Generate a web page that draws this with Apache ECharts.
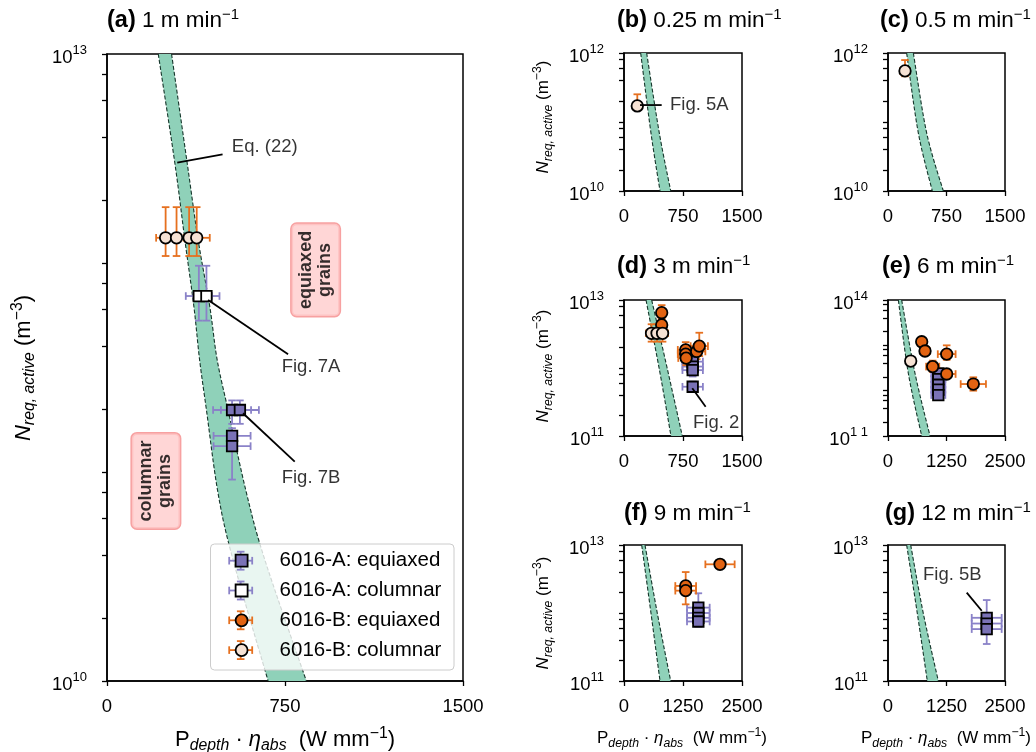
<!DOCTYPE html>
<html>
<head>
<meta charset="utf-8">
<script src="https://cdn.jsdelivr.net/npm/echarts@6/dist/echarts.min.js"></script>
<style>html,body{margin:0;padding:0;background:#fff}#chart{width:1036px;height:752px}</style>
</head>
<body>
<div id="chart"></div>
<script>
// Eq. (22) band: [N, x of left edge, x of right edge]
const bandA = [[1e13, 216, 272], [3.0e12, 286, 338], [1.29e12, 328, 384], [6.2e11, 366, 433], [3.45e11, 390, 464],
  [1.98e11, 419, 510], [7.9e10, 468, 588], [3.8e10, 531, 665], [1e10, 679, 840]];
const bandB = [[1e12, 212, 288], [6.9e10, 343, 449], [1e10, 458, 594]];
const bandC = [[1e12, 239, 325], [6.9e10, 389, 496], [1e10, 568, 709]];
const bandD = [[1e13, 280, 352], [8.4e11, 458, 563], [1e11, 597, 741]];
const bandE = [[1e14, 221, 292], [2.42e12, 434, 577], [1e11, 720, 898]];
const bandF = [[1e13, 375, 445], [9.9e11, 572, 706], [1e11, 763, 989]];
const bandG = [[1e13, 399, 485], [9.9e11, 626, 754], [1e11, 840, 1075]];

// measured points: [P*eta, N, x error, N low, N high]
const aEqA = [[527, 1.98e11, 80, 1.7e11, 2.2e11], [560, 1.98e11, 80, 1.7e11, 2.2e11],
  [527, 1.49e11, 78, 1.3e11, 1.62e11], [527, 1.33e11, 78, 9.2e10, 1.5e11]];
const aColA = [[387, 6.95e11, 55, 5.3e11, 9.7e11], [419, 6.95e11, 55, 5.3e11, 9.7e11]];
const aColB = [[247, 1.32e12, 40, 1.08e12, 1.85e12], [293, 1.32e12, 40, 1.08e12, 1.85e12],
  [346, 1.32e12, 45, 1.08e12, 1.85e12], [378, 1.32e12, 55, 1.08e12, 1.85e12]];
const bColB = [[169, 1.71e11, 15, 1.6e11, 2.52e11]];
const cColB = [[218, 5.5e11, 60, 4.6e11, 7.9e11]];
const dColB = [[350, 3.24e12, 70, 2.44e12, 4.4e12], [420, 3.24e12, 70, 2.44e12, 4.4e12], [490, 3.24e12, 70, 2.44e12, 4.4e12]];
const dEqB = [[479, 6.5e12, 50, 5.2e12, 8.4e12], [479, 4.3e12, 50, 3.5e12, 5.3e12], [784, 1.85e12, 100, 1.4e12, 2.4e12],
  [784, 1.6e12, 100, 1.25e12, 2.0e12], [790, 1.4e12, 100, 1.1e12, 1.8e12], [924, 1.75e12, 110, 1.35e12, 2.2e12],
  [957, 2.1e12, 110, 1.5e12, 3.3e12]];
const dEqA = [[873, 1.24e12, 130, 9.5e11, 1.6e12], [873, 1.05e12, 130, 8.5e11, 1.3e12],
  [873, 9.3e11, 130, 7.5e11, 1.15e12], [873, 5.3e11, 130, 4.5e11, 6.3e11]];
const eColB = [[485, 4.5e12, 60, 4.0e12, 5.1e12]];
const eEqB = [[720, 1.2e13, 90, 9.5e12, 1.45e13], [791, 7.5e12, 100, 6.0e12, 9.5e12], [1254, 6.4e12, 190, 4.8e12, 1.0e13],
  [955, 3.4e12, 140, 2.6e12, 4.6e12], [1254, 2.33e12, 190, 1.9e12, 2.9e12], [1823, 1.4e12, 270, 1.0e12, 1.97e12]];
const eEqA = [[1075, 2.4e12, 150, 2.0e12, 2.8e12], [1075, 1.8e12, 150, 1.5e12, 2.1e12], [1075, 1.35e12, 150, 1.1e12, 1.6e12],
  [1075, 1.05e12, 150, 8.8e11, 1.25e12], [1075, 8.0e11, 150, 6.8e11, 9.2e11]];
const fEqB = [[2034, 5.2e12, 310, 4.8e12, 5.6e12], [1307, 2.5e12, 220, 1.9e12, 4.0e12], [1307, 2.13e12, 220, 1.34e12, 2.6e12]];
const fEqA = [[1575, 1.2e12, 240, 1.0e12, 1.95e12], [1575, 1.0e12, 240, 8.5e11, 1.2e12],
  [1575, 8.5e11, 240, 7.2e11, 1.0e12], [1575, 7.5e11, 240, 6.3e11, 9.0e11]];
const gEqA = [[2109, 8.5e11, 320, 6.5e11, 1.55e12], [2109, 7.0e11, 320, 5.0e11, 1.0e12], [2109, 5.8e11, 320, 3.5e11, 7.5e11]];

// axes
const titles = ['(a)|1 m min', '(b)|0.25 m min', '(c)|0.5 m min', '(d)|3 m min', '(e)|6 m min', '(f)|9 m min', '(g)|12 m min'];
const xMax = [1500, 1500, 1500, 1500, 2500, 2500, 2500];
const yMinExp = [10, 10, 10, 11, 11, 11, 11];
const yMaxExp = [13, 12, 12, 13, 14, 13, 13];
const yLabelText = [['10', '13'], ['10', '12'], ['10', '12'], ['11', '13'], ['1 1', '14'], ['11', '13'], ['11', '13']];

// annotations: [panel, text, text x, text N, line x0, line N0, line x1, line N1]
const notes = [
  [0, 'Eq. (22)', 526, 3.59e12, 487, 3.31e12, 296, 3.02e12],
  [0, 'Fig. 7A', 736, 3.18e11, 426, 6.65e11, 763, 3.66e11],
  [0, 'Fig. 7B', 736, 9.35e10, 573, 1.91e11, 791, 1.12e11],
  [1, 'Fig. 5A', 585, 1.76e11, 203, 1.76e11, 479, 1.76e11],
  [3, 'Fig. 2', 877, 1.57e11, 868, 5.03e11, 1038, 2.69e11],
  [6, 'Fig. 5B', 748, 3.62e12, 1682, 1.99e12, 2003, 1.08e12]
];
const grainBoxes = [[0, 'equiaxed\ngrains', 879, 9.27e11], [0, 'columnar\ngrains', 206, 9.06e10]];

const NAMES = ['6016-A: equiaxed', '6016-A: columnar', '6016-B: equiaxed', '6016-B: columnar'];
const panels = [
  { band: bandA, sets: [aEqA, aColA, [], aColB] },
  { band: bandB, sets: [[], [], [], bColB] },
  { band: bandC, sets: [[], [], [], cColB] },
  { band: bandD, sets: [dEqA, [], dEqB, dColB] },
  { band: bandE, sets: [eEqA, [], eEqB, eColB] },
  { band: bandF, sets: [fEqA, [], fEqB, []] },
  { band: bandG, sets: [gEqA, [], [], []] }
];

const FONT = '"Liberation Sans", Arial, sans-serif';
const PURPLE = '#7a72b6', PURPLE_ERR = '#8a82c8', ORANGE = '#e26312', ORANGE_ERR = '#e6701f';
const STY = [
  { symbol: 'rect', size: 10.5, fill: PURPLE, err: PURPLE_ERR },
  { symbol: 'rect', size: 10.5, fill: '#ffffff', err: PURPLE_ERR },
  { symbol: 'circle', size: 11.5, fill: ORANGE, err: ORANGE_ERR },
  { symbol: 'circle', size: 11.5, fill: '#f6e2d4', err: ORANGE_ERR }
];

const gridPos = [
  { left: 107, top: 54, width: 356, height: 627 },
  { left: 624, top: 53, width: 118, height: 138 },
  { left: 888, top: 53, width: 117, height: 138 },
  { left: 624, top: 300, width: 118, height: 136 },
  { left: 888, top: 300, width: 117, height: 136 },
  { left: 624, top: 545, width: 118, height: 136 },
  { left: 888, top: 545, width: 117, height: 136 }
];

function tickValues(p) {
  const v = [];
  for (let k = yMinExp[p]; k < yMaxExp[p]; k++) [1, 2, 4, 6, 8].forEach(m => v.push(m * Math.pow(10, k)));
  v.push(Math.pow(10, yMaxExp[p]));
  return v;
}

// Catmull-Rom through pixel points (rendering only)
function spline(pts) {
  if (pts.length < 3) return pts;
  const out = [];
  for (let i = 0; i < pts.length - 1; i++) {
    const p0 = pts[Math.max(i - 1, 0)], p1 = pts[i], p2 = pts[i + 1], p3 = pts[Math.min(i + 2, pts.length - 1)];
    for (let s = 0; s < 12; s++) {
      const t = s / 12, t2 = t * t, t3 = t2 * t;
      out.push([0, 1].map(d => 0.5 * (2 * p1[d] + (-p0[d] + p2[d]) * t + (2 * p0[d] - 5 * p1[d] + 4 * p2[d] - p3[d]) * t2 +
        (-p0[d] + 3 * p1[d] - 3 * p2[d] + p3[d]) * t3)));
    }
  }
  out.push(pts[pts.length - 1]);
  return out;
}

function bandSeries(band, gi) {
  return {
    type: 'custom', xAxisIndex: gi, yAxisIndex: gi, z: 1, silent: true, clip: true,
    data: band, encode: { x: [1, 2], y: 0 },
    renderItem(params, api) {
      if (params.dataIndex !== 0) return null;
      const left = spline(band.map(r => api.coord([r[1], r[0]])));
      const right = spline(band.map(r => api.coord([r[2], r[0]])));
      const dash = { stroke: '#15352a', lineWidth: 1.1, lineDash: [4, 2], fill: null };
      return {
        type: 'group', children: [
          { type: 'polygon', shape: { points: left.concat(right.slice().reverse()) }, style: { fill: '#8fd1b9' } },
          { type: 'polyline', shape: { points: left }, style: dash },
          { type: 'polyline', shape: { points: right }, style: dash }
        ]
      };
    }
  };
}

function errSeries(pts, gi, color) {
  return {
    type: 'custom', xAxisIndex: gi, yAxisIndex: gi, z: 2, silent: true, clip: true,
    data: pts, encode: { x: 0, y: 1 },
    renderItem(params, api) {
      const x = api.value(0), y = api.value(1), dx = api.value(2);
      const l = api.coord([x - dx, y]), r = api.coord([x + dx, y]);
      const b = api.coord([x, api.value(3)]), t = api.coord([x, api.value(4)]);
      const c = 3.8, st = { stroke: color, lineWidth: 1.8 };
      const seg = (x1, y1, x2, y2) => ({ type: 'line', shape: { x1, y1, x2, y2 }, style: st });
      return {
        type: 'group', children: [
          seg(l[0], l[1], r[0], r[1]), seg(l[0], l[1] - c, l[0], l[1] + c), seg(r[0], r[1] - c, r[0], r[1] + c),
          seg(b[0], b[1], t[0], t[1]), seg(b[0] - c, b[1], b[0] + c, b[1]), seg(t[0] - c, t[1], t[0] + c, t[1])
        ]
      };
    }
  };
}

const supRich = {
  n: { fontSize: 18.5, fontFamily: FONT, color: '#000', lineHeight: 20, padding: [7, 0, 0, 0] },
  s: { fontSize: 13, fontFamily: FONT, color: '#000', lineHeight: 14, verticalAlign: 'top' }
};

const grid = [], xAxis = [], yAxis = [], series = [];
panels.forEach((pn, gi) => {
  grid.push(Object.assign({ show: true, borderColor: '#000', borderWidth: 1.5, backgroundColor: 'transparent' }, gridPos[gi]));
  xAxis.push({
    type: 'value', gridIndex: gi, min: 0, max: xMax[gi], interval: xMax[gi] / 2,
    axisLine: { lineStyle: { color: '#000', width: 1.5 } },
    axisTick: { length: 5, lineStyle: { color: '#000', width: 1.3 } },
    axisLabel: { color: '#000', fontSize: 18.5, fontFamily: FONT, margin: 16, formatter: v => String(v) },
    splitLine: { show: false }
  });
  const lo = Math.pow(10, yMinExp[gi]), hi = Math.pow(10, yMaxExp[gi]);
  yAxis.push({
    type: 'log', logBase: 10, gridIndex: gi, min: lo, max: hi,
    axisLine: { lineStyle: { color: '#000', width: 1.5 } },
    axisTick: { length: 5, customValues: tickValues(gi), lineStyle: { color: '#000', width: 1.3 } },
    axisLabel: {
      customValues: [lo, hi], margin: 20,
      formatter: v => {
        const t = v < Math.sqrt(lo * hi) ? yLabelText[gi][0] : yLabelText[gi][1];
        return '{n|10}{s|' + t + '}';
      },
      rich: supRich
    },
    splitLine: { show: false }
  });
  series.push(bandSeries(pn.band, gi));
  pn.sets.forEach((pts, k) => {
    if (!pts.length) return;
    series.push(errSeries(pts, gi, STY[k].err));
    series.push({
      name: NAMES[k], type: 'scatter', xAxisIndex: gi, yAxisIndex: gi, z: 3,
      symbol: STY[k].symbol, symbolSize: STY[k].size,
      itemStyle: { color: STY[k].fill, borderColor: '#000', borderWidth: 1.8, opacity: 1 },
      emphasis: { disabled: true },
      data: pts.map(p => [p[0], p[1]])
    });
  });
});

notes.forEach(n => {
  const gi = n[0];
  series.push({
    type: 'line', xAxisIndex: gi, yAxisIndex: gi, z: 4, silent: true, symbol: 'none',
    lineStyle: { color: '#000', width: 1.8 }, data: [[n[4], n[5]], [n[6], n[7]]]
  });
  series.push({
    type: 'scatter', xAxisIndex: gi, yAxisIndex: gi, z: 4, silent: true, symbolSize: 0,
    data: [{ value: [n[2], n[3]], name: n[1] }],
    label: { show: true, position: 'right', distance: 0, formatter: '{b}', color: '#000', fontSize: 18.5, fontFamily: FONT }
  });
});
grainBoxes.forEach(b => {
  series.push({
    type: 'scatter', xAxisIndex: b[0], yAxisIndex: b[0], z: 4, silent: true, symbolSize: 0,
    data: [{ value: [b[2], b[3]], name: b[1] }],
    label: {
      show: true, position: 'inside', rotate: 90, formatter: '{b}', color: '#000', fontSize: 18, fontWeight: 'bold',
      fontFamily: FONT, lineHeight: 19, backgroundColor: '#ffcccc', borderColor: '#f58a8a', borderWidth: 1.5,
      borderRadius: 5, padding: [5, 7, 5, 7]
    }
  });
});

const titleRich = {
  b: { fontSize: 23.5, fontWeight: 'bold', fontFamily: FONT, color: '#000', lineHeight: 28 },
  n: { fontSize: 22.5, fontFamily: FONT, color: '#000', lineHeight: 28 },
  s: { fontSize: 15, fontFamily: FONT, color: '#000', lineHeight: 14, verticalAlign: 'top' }
};
function axRich(fs) {
  return {
    n: { fontSize: fs, fontFamily: FONT, color: '#000', lineHeight: fs + 6 },
    i: { fontSize: fs, fontFamily: FONT, fontStyle: 'italic', color: '#000', lineHeight: fs + 6 },
    d: { fontSize: fs * 0.72, fontFamily: FONT, fontStyle: 'italic', color: '#000', lineHeight: fs * 0.7, verticalAlign: 'bottom' },
    s: { fontSize: fs * 0.72, fontFamily: FONT, color: '#000', lineHeight: fs * 0.7, verticalAlign: 'top' }
  };
}
const yTitle = '{i|N}{d|req, active}{n| (m}{s|−3}{n|)}';
const xTitle = '{n|P}{d|depth}{n| · }{i|η}{d|abs}{n|  (W mm}{s|−1}{n|)}';
const titlePos = [[107, 21], [617, 21], [880, 21], [617, 267], [882, 267], [624, 514], [885, 514]];

const graphics = [];
titles.forEach((t, i) => {
  const [b, n] = t.split('|');
  graphics.push({ type: 'text', x: titlePos[i][0], y: titlePos[i][1], style: { text: '{b|' + b + '}{n| ' + n + '}{s|−1}', rich: titleRich, verticalAlign: 'middle' } });
});
[[24, 368, 22], [543, 117, 17], [543, 366, 17], [543, 613, 17]].forEach(p => {
  graphics.push({ type: 'text', x: p[0], y: p[1], rotation: Math.PI / 2, style: { text: yTitle, rich: axRich(p[2]), align: 'center', verticalAlign: 'middle' } });
});
[[285, 740, 22], [682, 738, 17], [946, 738, 17]].forEach(p => {
  graphics.push({ type: 'text', x: p[0], y: p[1], style: { text: xTitle, rich: axRich(p[2]), align: 'center', verticalAlign: 'middle' } });
});
// legend frame and error-bar crosses behind the legend symbols
graphics.push({ type: 'rect', z: 5, shape: { x: 210.5, y: 544, width: 243.5, height: 126, r: 4 }, style: { fill: 'rgba(255,255,255,0.8)', stroke: '#cccccc', lineWidth: 1 } });
[PURPLE_ERR, PURPLE_ERR, ORANGE_ERR, ORANGE_ERR].forEach((c, i) => {
  const cx = 240.7, cy = 560.7 + i * 29.8, st = { stroke: c, lineWidth: 1.8 };
  const seg = (x1, y1, x2, y2) => ({ type: 'line', z: 6, shape: { x1, y1, x2, y2 }, style: st });
  graphics.push(seg(cx - 11.5, cy, cx + 11.5, cy), seg(cx - 11.5, cy - 3.8, cx - 11.5, cy + 3.8), seg(cx + 11.5, cy - 3.8, cx + 11.5, cy + 3.8),
    seg(cx, cy - 9, cx, cy + 9), seg(cx - 3.8, cy - 9, cx + 3.8, cy - 9), seg(cx - 3.8, cy + 9, cx + 3.8, cy + 9));
});

const chart = echarts.init(document.getElementById('chart'), null, { renderer: 'canvas' });
chart.setOption({
  animation: false,
  backgroundColor: '#fff',
  grid, xAxis, yAxis, series,
  graphic: graphics,
  legend: {
    data: NAMES, orient: 'vertical', left: 234.7, top: 549.7, z: 7, padding: 0,
    itemWidth: 12, itemHeight: 12, itemGap: 7.8, selectedMode: false,
    itemStyle: { borderColor: '#000', borderWidth: 1.8 },
    textStyle: { color: '#000', fontSize: 20.5, fontFamily: FONT, lineHeight: 22, padding: [0, 0, 0, 27] }
  }
});
</script>
</body>
</html>
